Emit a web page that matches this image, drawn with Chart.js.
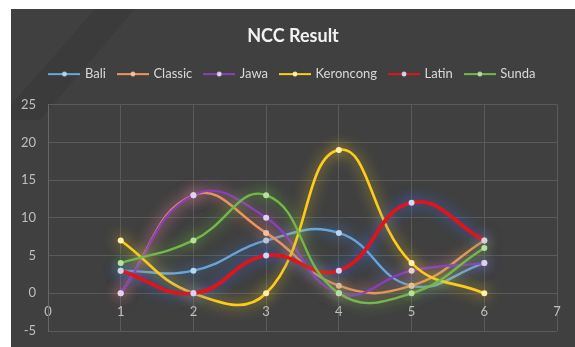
<!DOCTYPE html>
<html>
<head>
<meta charset="utf-8">
<script src="https://cdn.jsdelivr.net/npm/chart.js@4.4.1/dist/chart.umd.min.js"></script>
<style>
  html, body { margin: 0; padding: 0; background: #ffffff; }
  #wrap { position: relative; width: 575px; height: 347px; }
</style>
</head>
<body>
<div id="wrap"><canvas id="nccChart" width="575" height="347"></canvas></div>
<script>
// x positions of the measurements
const positions = [1, 2, 3, 4, 5, 6];

// series values
const bali      = [3, 3, 7, 8, 1, 4];
const classic   = [0, 13, 8, 1, 1, 7];
const jawa      = [0, 13, 10, 0, 3, 4];
const keroncong = [7, 0, 0, 19, 4, 0];
const latin     = [3, 0, 5, 3, 12, 7];
const sunda     = [4, 7, 13, 0, 0, 6];

const seriesNames = ['Bali', 'Classic', 'Jawa', 'Keroncong', 'Latin', 'Sunda'];
const seriesValues = [bali, classic, jawa, keroncong, latin, sunda];

// axis ranges
const xTicks = [0, 1, 2, 3, 4, 5, 6, 7];
const yTicks = [-5, 0, 5, 10, 15, 20, 25];

// styles per series
const lineColors  = ['#6aa6da', '#f0955a', '#8a3fb8', '#ffcc1a', '#e0141e', '#72b84a'];
const pointColors = ['#b9d6f0', '#f6c29e', '#e2d2f2', '#fff0a8', '#d8d4f4', '#b7e09c'];
const glowColors  = ['rgba(70,140,230,0.9)', 'rgba(240,140,80,0.9)', 'rgba(200,120,220,0.8)',
                     'rgba(255,215,40,0.9)', 'rgba(60,110,230,0.9)', 'rgba(120,210,70,0.9)'];
const lineWidths  = [2.4, 2.4, 2.4, 2.6, 3.8, 2.4];

// small line + dot image for the legend entries
function legendIcon(color, dot) {
    const c = document.createElement('canvas');
    c.width = 32; c.height = 8;
    const g = c.getContext('2d');
    g.strokeStyle = color;
    g.lineWidth = 2;
    g.beginPath(); g.moveTo(0, 4); g.lineTo(32, 4); g.stroke();
    g.fillStyle = dot;
    g.beginPath(); g.arc(16, 4, 2.4, 0, Math.PI * 2); g.fill();
    return c;
}

const datasets = seriesNames.map(function(name, i) {
    return {
        label: name,
        data: positions.map(function(x, j) { return { x: x, y: seriesValues[i][j] }; }),
        borderColor: lineColors[i],
        backgroundColor: lineColors[i],
        borderWidth: lineWidths[i],
        pointRadius: 3,
        pointBorderWidth: 0,
        pointBackgroundColor: pointColors[i],
        tension: 0.45,
        fill: false,
        clip: false,
        glow: glowColors[i],
        icon: legendIcon(lineColors[i], pointColors[i]),
        order: 6 - i
    };
});

// dark panel behind the chart (plus the faint watermark stroke)
const panelBackground = {
    id: 'panelBackground',
    beforeDraw(chart) {
        const ctx = chart.ctx;
        ctx.save();
        ctx.fillStyle = '#404040';
        ctx.fillRect(11, 9, chart.width - 11, chart.height - 9);
        ctx.fillStyle = 'rgba(0,0,0,0.07)';
        ctx.beginPath();
        ctx.moveTo(95, 9); ctx.lineTo(135, 9); ctx.lineTo(40, 120); ctx.lineTo(11, 120); ctx.lineTo(11, 105);
        ctx.closePath();
        ctx.fill();
        ctx.fillStyle = 'rgba(0,0,0,0.06)';
        ctx.fillRect(11, 9, 1, chart.height - 9);
        ctx.restore();
    }
};

// soft glow round every series
const glowPlugin = {
    id: 'glow',
    beforeDatasetDraw(chart, args) {
        const ds = chart.data.datasets[args.index];
        chart.ctx.save();
        chart.ctx.shadowColor = ds.glow;
        chart.ctx.shadowBlur = 14;
    },
    afterDatasetDraw(chart) {
        chart.ctx.restore();
    }
};

// a bit more room between the legend and the plot
const legendGap = {
    id: 'legendGap',
    beforeInit(chart) {
        const fit = chart.legend.fit;
        chart.legend.fit = function() {
            fit.call(this);
            this.height += 14;
        };
    }
};

new Chart(document.getElementById('nccChart').getContext('2d'), {
    type: 'line',
    data: { datasets: datasets },
    plugins: [panelBackground, glowPlugin, legendGap],
    options: {
        responsive: false,
        animation: false,
        layout: { padding: { left: 11, top: 9, right: 0, bottom: 16 } },
        plugins: {
            title: {
                display: true,
                text: 'NCC Result',
                color: '#f2f2f2',
                font: { family: 'Lato', size: 18, weight: 'bold' },
                padding: { top: 16, bottom: 8 }
            },
            legend: {
                position: 'top',
                labels: {
                    color: '#d9d9d9',
                    font: { family: 'Lato', size: 13 },
                    usePointStyle: true,
                    pointStyleWidth: 28,
                    boxHeight: 8,
                    padding: 13,
                    generateLabels: function(chart) {
                        return chart.data.datasets.map(function(ds, i) {
                            return {
                                text: ds.label,
                                fillStyle: ds.borderColor,
                                strokeStyle: ds.borderColor,
                                lineWidth: 0,
                                pointStyle: ds.icon,
                                fontColor: '#d9d9d9',
                                hidden: false,
                                datasetIndex: i
                            };
                        });
                    }
                }
            },
            tooltip: { enabled: false }
        },
        scales: {
            x: {
                type: 'linear',
                position: { y: 0 },
                min: xTicks[0],
                max: xTicks[xTicks.length - 1],
                afterBuildTicks: function(scale) {
                    scale.ticks = xTicks.map(function(v) { return { value: v }; });
                },
                ticks: {
                    color: '#bfbfbf',
                    font: { family: 'Lato', size: 13 },
                    padding: 11
                },
                grid: { color: '#5a5a5a', lineWidth: 1, drawTicks: false },
                border: { display: false }
            },
            y: {
                min: yTicks[0],
                max: yTicks[yTicks.length - 1],
                afterBuildTicks: function(scale) {
                    scale.ticks = yTicks.map(function(v) { return { value: v }; });
                },
                afterFit: function(scale) {
                    scale.width = 37;
                    scale.paddingTop = 0;
                    scale.paddingBottom = 0;
                },
                ticks: {
                    color: '#bfbfbf',
                    font: { family: 'Lato', size: 13 },
                    padding: 12
                },
                grid: { color: '#5a5a5a', lineWidth: 1, drawTicks: false },
                border: { color: '#666666' }
            },
            // empty strip on the right so the plot stops short of the panel edge
            yRight: {
                position: 'right',
                min: yTicks[0],
                max: yTicks[yTicks.length - 1],
                afterFit: function(scale) {
                    scale.width = 18;
                    scale.paddingTop = 0;
                    scale.paddingBottom = 0;
                },
                ticks: { display: false },
                grid: { display: false, drawTicks: false },
                border: { display: false }
            }
        }
    }
});
</script>
</body>
</html>
